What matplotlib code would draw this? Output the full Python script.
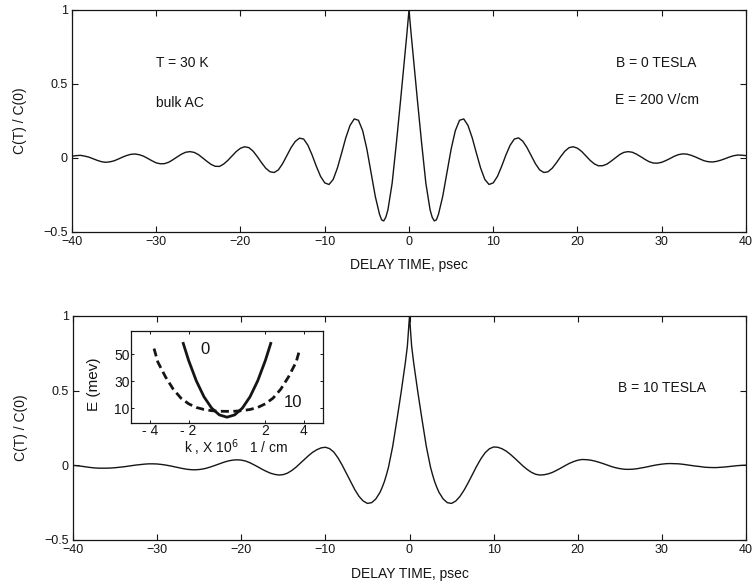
import numpy as np
import matplotlib
matplotlib.use("Agg")
import matplotlib.pyplot as plt

plt.rcParams['font.family'] = ['Liberation Sans', 'DejaVu Sans']

# ---------------- data ----------------
# |delay time| grid (psec); curves are given separately for t>=0 and t<=0
t_abs = np.concatenate([[0.0, 0.25, 0.5, 1.0, 1.5, 2.0, 2.5, 2.75, 3.0, 3.25],
                        np.arange(3.5, 40.01, 0.5)])

# top panel, B = 0 TESLA (values at +t)
top_pos = [1.00, 0.84, 0.69, 0.39, 0.10, -0.17, -0.35, -0.40, -0.425, -0.418, -0.38, -0.26,
           -0.10, 0.06, 0.185, 0.255, 0.264, 0.220, 0.137, 0.033, -0.068, -0.145,
           -0.179, -0.168, -0.124, -0.056, 0.020, 0.086, 0.128, 0.136, 0.114, 0.071,
           0.016, -0.038, -0.080, -0.098, -0.093, -0.069, -0.032, 0.009, 0.046, 0.070,
           0.076, 0.066, 0.044, 0.014, -0.016, -0.040, -0.053, -0.052, -0.041, -0.021,
           0.001, 0.023, 0.038, 0.043, 0.039, 0.026, 0.009, -0.009, -0.025, -0.034,
           -0.035, -0.029, -0.017, -0.003, 0.012, 0.023, 0.028, 0.026, 0.018, 0.007,
           -0.006, -0.018, -0.025, -0.027, -0.023, -0.015, -0.005, 0.006, 0.015, 0.020,
           0.019, 0.016]
# top panel (values at -t)
top_neg = [1.00, 0.84, 0.69, 0.39, 0.10, -0.17, -0.35, -0.40, -0.425, -0.418, -0.38, -0.26,
           -0.10, 0.06, 0.185, 0.255, 0.264, 0.220, 0.137, 0.033, -0.068, -0.145,
           -0.179, -0.168, -0.124, -0.056, 0.020, 0.086, 0.128, 0.134, 0.112, 0.070,
           0.016, -0.038, -0.080, -0.098, -0.093, -0.069, -0.032, 0.009, 0.046, 0.070,
           0.076, 0.066, 0.044, 0.014, -0.016, -0.041, -0.057, -0.056, -0.043, -0.022,
           0.001, 0.023, 0.038, 0.043, 0.039, 0.026, 0.008, -0.011, -0.028, -0.038,
           -0.039, -0.033, -0.019, -0.003, 0.012, 0.022, 0.027, 0.025, 0.017, 0.006,
           -0.007, -0.019, -0.026, -0.029, -0.025, -0.016, -0.005, 0.006, 0.013, 0.018,
           0.016, 0.012]

# bottom panel, B = 10 TESLA (values at +t)
bot_pos = [1.00, 0.80, 0.685, 0.487, 0.303, 0.126, -0.013, -0.065, -0.111, -0.148, -0.18, -0.225,
           -0.250, -0.255, -0.239, -0.208, -0.165, -0.114, -0.059, -0.004, 0.045, 0.085,
           0.111, 0.123, 0.121, 0.111, 0.095, 0.073, 0.048, 0.021, -0.005, -0.028,
           -0.047, -0.060, -0.065, -0.063, -0.057, -0.047, -0.033, -0.018, -0.002, 0.013,
           0.025, 0.034, 0.039, 0.038, 0.035, 0.029, 0.021, 0.012, 0.002, -0.008,
           -0.016, -0.022, -0.026, -0.027, -0.026, -0.023, -0.018, -0.013, -0.007, -0.001,
           0.004, 0.008, 0.011, 0.012, 0.011, 0.010, 0.007, 0.003, -0.001, -0.005,
           -0.008, -0.012, -0.014, -0.015, -0.015, -0.013, -0.011, -0.008, -0.005, -0.002,
           0.000, 0.001]
# bottom panel (values at -t)
bot_neg = [1.00, 0.80, 0.685, 0.487, 0.303, 0.126, -0.013, -0.065, -0.111, -0.148, -0.18, -0.225,
           -0.250, -0.255, -0.239, -0.208, -0.163, -0.110, -0.054, 0.001, 0.050, 0.089,
           0.112, 0.121, 0.117, 0.105, 0.088, 0.065, 0.040, 0.013, -0.013, -0.035,
           -0.052, -0.062, -0.065, -0.061, -0.053, -0.041, -0.027, -0.011, 0.004, 0.018,
           0.029, 0.035, 0.037, 0.035, 0.030, 0.022, 0.012, 0.002, -0.008, -0.017,
           -0.024, -0.028, -0.030, -0.029, -0.026, -0.021, -0.015, -0.009, -0.003, 0.002,
           0.006, 0.009, 0.010, 0.010, 0.008, 0.005, 0.002, -0.002, -0.006, -0.010,
           -0.013, -0.016, -0.018, -0.019, -0.019, -0.019, -0.017, -0.014, -0.010, -0.006,
           -0.003, 0.000]

# inset: dispersion E(k)
k_b0 = [-2.3, -2.0, -1.6, -1.2, -0.8, -0.4, 0.0, 0.4, 0.8, 1.2, 1.6, 2.0, 2.3]
E_b0 = [58.8, 45.3, 30.2, 18.4, 10.0, 5.0, 3.3, 5.0, 10.0, 18.4, 30.2, 45.3, 58.8]
k_b10 = [-3.8, -3.6, -3.2, -2.8, -2.4, -2.0, -1.6, -1.2, -0.8, -0.4, 0.0,
         0.4, 0.8, 1.2, 1.6, 2.0, 2.4, 2.8, 3.2, 3.6, 3.8]
E_b10 = [54.0, 44.0, 33.0, 24.0, 17.4, 13.2, 10.5, 9.0, 8.1, 7.7, 7.6,
         7.7, 8.1, 9.0, 10.5, 13.2, 17.4, 24.0, 33.0, 44.0, 54.0]

x_ticks = [-40, -30, -20, -10, 0, 10, 20, 30, 40]
x_ticklabels = ['\u221240', '\u221230', '\u221220', '\u221210', '0', '10', '20', '30', '40']
y_ticks = [-0.5, 0, 0.5, 1]
y_ticklabels = ['\u22120.5', '0', '0.5', '1']
inset_xticks = [-4, -2, 2, 4]
inset_xticklabels = ['- 4', '- 2', '2', '4']
inset_yticks = [10, 30, 50]
inset_yticklabels = ['10', '30', '50']

# ---------------- figure ----------------
INK = '#151515'
fig = plt.figure(figsize=(7.54, 5.86), dpi=100)

def full(neg, pos):
    x = np.concatenate([-t_abs[::-1], t_abs[1:]])
    y = np.concatenate([np.array(neg)[::-1], np.array(pos)[1:]])
    return x, y

def style_main(ax):
    ax.set_xlim(-40, 40)
    ax.set_ylim(-0.5, 1)
    ax.set_xticks(x_ticks)
    ax.set_xticklabels(x_ticklabels)
    ax.set_yticks(y_ticks)
    ax.set_yticklabels(y_ticklabels)
    ax.tick_params(direction='in', top=True, right=True, length=4.5, width=0.8,
                   labelsize=9, colors=INK, pad=3)
    for s in ax.spines.values():
        s.set_linewidth(0.9)
        s.set_color(INK)
    ax.set_ylabel('C(T) / C(0)', fontsize=10, color=INK, labelpad=12)

ax1 = fig.add_axes([72/754, 1-232/586, 674/754, 222/586])
x, y = full(top_neg, top_pos)
ax1.plot(x, y, color=INK, lw=1.0)
style_main(ax1)
ax1.set_xlabel('DELAY TIME, psec', fontsize=10, color=INK, labelpad=7)
ax1.text(-30.0, 0.64, 'T = 30 K', fontsize=10, color=INK, va='center')
ax1.text(-30.0, 0.37, 'bulk AC', fontsize=10, color=INK, va='center')
ax1.text(24.6, 0.64, 'B = 0 TESLA', fontsize=10, color=INK, va='center')
ax1.text(24.5, 0.39, 'E = 200 V/cm', fontsize=10, color=INK, va='center')

ax2 = fig.add_axes([73/754, 1-540/586, 673/754, 224/586])
x, y = full(bot_neg, bot_pos)
ax2.plot(x, y, color=INK, lw=1.0)
style_main(ax2)
ax2.set_xlabel('DELAY TIME, psec', fontsize=10, color=INK, labelpad=8)
ax2.text(24.8, 0.52, 'B = 10 TESLA', fontsize=10, color=INK, va='center')

# inset
axi = fig.add_axes([131/754, 1-423/586, 192/754, 92/586])
axi.set_zorder(5)
axi.plot(k_b0, E_b0, color=INK, lw=2.0, solid_capstyle='butt')
ln, = axi.plot(k_b10, E_b10, color=INK, lw=2.0, dash_capstyle='butt')
ln.set_dashes([2.9, 1.6])
axi.set_xlim(-5, 5)
axi.set_ylim(-1, 67)
axi.set_xticks(inset_xticks)
axi.set_xticklabels(inset_xticklabels)
axi.set_yticks(inset_yticks)
axi.set_yticklabels(inset_yticklabels)
axi.tick_params(direction='in', top=True, right=True, length=2.5, width=0.7,
                labelsize=10, colors=INK, pad=1)
for s in axi.spines.values():
    s.set_linewidth(0.9)
    s.set_color(INK)
axi.set_ylabel('E (mev)', fontsize=11, color=INK)
axi.yaxis.set_label_coords(-0.155, 0.42)
axi.text(0.55, -0.27, 'k , X 10$^{6}$   1 / cm', transform=axi.transAxes,
         ha='center', va='center', fontsize=10, color=INK)
axi.text(-1.15, 53, '0', fontsize=12, color=INK, ha='center', va='center')
axi.text(3.45, 14.5, '10', fontsize=12, color=INK, ha='center', va='center')

fig.savefig('out.png', dpi=100)
